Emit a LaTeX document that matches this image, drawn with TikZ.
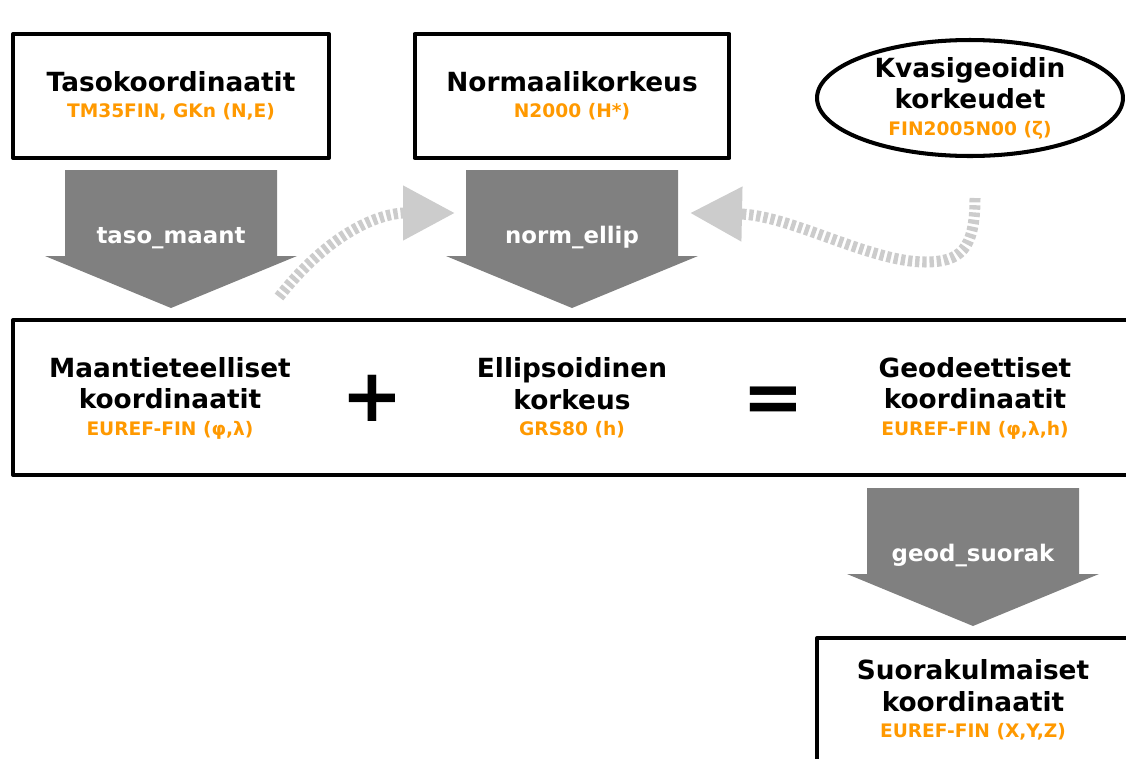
\documentclass[tikz,border=0pt]{standalone}
\usepackage{fontspec}
\setmainfont{DejaVu Sans}
\usetikzlibrary{arrows.meta,shapes.geometric}
\definecolor{suborange}{RGB}{255,153,0}
\definecolor{fatgray}{RGB}{128,128,128}
\definecolor{dashgray}{RGB}{204,204,204}
\tikzset{
  coordbox/.style={draw, line width=2.3pt, line join=round, inner sep=0pt},
  titletext/.style={font=\fontsize{15}{18}\selectfont\bfseries, align=center},
  fatlabel/.style={font=\fontsize{13}{13}\selectfont\bfseries, text=white},
  opsign/.style={font=\fontsize{42}{42}\selectfont\bfseries},
  dasharrow/.style={draw=dashgray, line width=0.22cm, dash pattern=on 2.5pt off 1.6pt,
    -{Triangle[length=1.04cm, width=1.04cm]}},
}
\newcommand\subline[1]{\\[-3pt]{\fontsize{10.6}{10.6}\selectfont\color{suborange}#1}}
% fat down arrow: centre x, top y, name, label
\def\fatarrow(#1,#2)#3#4{%
  \fill[fatgray] (#1-106,#2) -- (#1+106,#2) -- (#1+106,#2+86) -- (#1+126,#2+86)
    -- (#1,#2+138) -- (#1-126,#2+86) -- (#1-106,#2+86) -- cycle;
  \node[fatlabel] (#3) at (#1,#2+68) {#4};}

\begin{document}
\begin{tikzpicture}[x=0.02cm, y=-0.02cm]
  \useasboundingbox (0,0) rectangle (1126,758);

  %%%%% top row %%%%%
  \node[coordbox, titletext, minimum width=6.32cm, minimum height=2.48cm] (taso) at (171,96)
    {Tasokoordinaatit\subline{TM35FIN, GKn (N,E)}};
  \node[coordbox, titletext, minimum width=6.3cm, minimum height=2.48cm] (norm) at (572,96)
    {Normaalikorkeus\subline{N2000 (H*)}};
  \node[coordbox, ellipse, titletext, minimum width=6.12cm, minimum height=2.32cm] (kvasi) at (970,98)
    {Kvasigeoidin\\korkeudet\subline{FIN2005N00 (ζ)}};

  %%%%% fat arrows %%%%%
  \fatarrow(171,170){tasomaant}{taso\_maant}
  \fatarrow(572,170){normellip}{norm\_ellip}
  \fatarrow(973,488){geodsuorak}{geod\_suorak}

  %%%%% dashed arrows %%%%%
  \coordinate (d1s) at (279,297);
  \coordinate (d1e) at (455,213);
  \coordinate (d2s) at (975,198);
  \coordinate (d2e) at (690,213);
  \draw[dasharrow] (d1s) .. controls (330,232) and (380,213) .. (d1e);
  \draw[dasharrow] (d2s) .. controls (975,250) and (960,262) .. (925,262)
    .. controls (870,262) and (790,215) .. (d2e);

  %%%%% middle box %%%%%
  \node[coordbox, minimum width=22.54cm, minimum height=3.1cm] (geobox) at (576.5,397.5) {};
  \node[titletext] (maant) at (170,398) {Maantieteelliset\\koordinaatit\subline{EUREF-FIN (φ,λ)}};
  \node[opsign] (plus) at (372,398) {+};
  \node[titletext] (ellip) at (572,398) {Ellipsoidinen\\korkeus\subline{GRS80 (h)}};
  \node[opsign] (equal) at (773,405) {=};
  \node[titletext] (geod) at (975,398) {Geodeettiset\\koordinaatit\subline{EUREF-FIN (φ,λ,h)}};

  %%%%% bottom box %%%%%
  \node[coordbox, minimum width=6.46cm, minimum height=3.24cm] (suorbox) at (978.5,719) {};
  \node[titletext] (suor) at (973,700) {Suorakulmaiset\\koordinaatit\subline{EUREF-FIN (X,Y,Z)}};
\end{tikzpicture}
\end{document}
